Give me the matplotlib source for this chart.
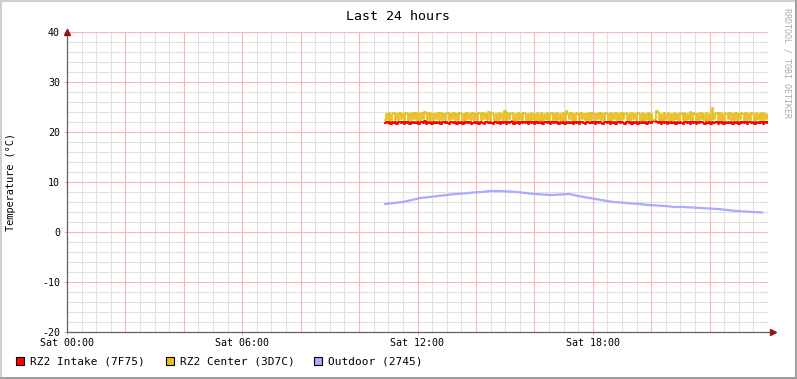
import numpy as np
import matplotlib
matplotlib.use("Agg")
import matplotlib.pyplot as plt
from matplotlib.lines import Line2D
from matplotlib.patches import Rectangle

plt.rcParams["font.family"] = ["DejaVu Sans Mono"]
plt.rcParams["axes.unicode_minus"] = False

# hours since Sat 00:00, 3-minute samples
hours = np.round(10.9 + 0.05 * np.arange(263), 3)

center = [
    22.4, 23.6, 22.5, 23.8, 22.4, 23.7, 23.8, 22.5, 23.6, 22.4, 23.9, 22.6, 23.7, 22.5, 23.8, 23.6, 22.4, 23.7, 22.5, 23.8,
    22.6, 23.9, 22.4, 23.7, 22.5, 23.8, 22.6, 24.1, 23.7, 22.4, 23.8, 22.5, 23.6, 22.4, 23.7, 22.6, 23.8, 22.5, 23.9, 22.4,
    23.7, 22.5, 23.6, 23.8, 22.4, 23.7, 22.6, 23.9, 22.5, 23.6, 22.4, 23.8, 23.7, 22.5, 23.6, 22.4, 23.8, 22.6, 23.7, 22.5,
    23.9, 22.4, 23.7, 22.5, 23.8, 23.6, 22.4, 23.9, 22.6, 23.7, 22.5, 24.0, 22.4, 23.8, 23.7, 22.5, 23.6, 22.4, 23.8, 22.6,
    23.7, 22.5, 24.3, 22.4, 23.8, 22.6, 23.7, 23.9, 22.5, 23.6, 22.4, 23.8, 22.6, 23.7, 22.5, 23.9, 23.6, 22.4, 23.7, 22.5,
    23.8, 22.6, 23.7, 22.4, 23.9, 23.6, 22.5, 23.8, 22.4, 23.7, 22.6, 23.8, 22.5, 23.6, 23.9, 22.4, 23.7, 22.5, 23.8, 22.6,
    23.7, 22.4, 23.8, 22.5, 24.2, 23.7, 22.6, 23.8, 22.4, 23.6, 22.5, 23.9, 23.7, 22.4, 23.8, 22.6, 23.7, 22.5, 23.6, 22.4,
    23.8, 22.5, 23.9, 23.7, 22.4, 23.6, 22.6, 23.8, 22.5, 23.7, 22.4, 23.9, 23.6, 22.5, 23.8, 22.4, 23.7, 22.6, 23.8, 22.5,
    23.6, 22.4, 23.9, 22.6, 23.7, 23.8, 22.5, 23.6, 22.4, 23.8, 22.6, 23.7, 22.5, 23.9, 23.6, 22.4, 23.8, 22.5, 23.7, 22.6,
    23.8, 22.4, 23.7, 22.5, 22.4, 22.6, 24.2, 23.8, 22.5, 23.6, 22.4, 23.9, 22.6, 23.7, 23.8, 22.5, 23.6, 22.4, 23.8, 22.6,
    23.7, 22.5, 23.9, 23.6, 22.4, 23.8, 22.5, 23.7, 22.6, 24.0, 22.4, 23.8, 23.7, 22.5, 23.6, 22.4, 23.9, 22.6, 23.7, 22.5,
    23.8, 22.4, 23.6, 22.5, 24.8, 22.6, 23.7, 23.8, 22.4, 23.9, 22.5, 23.6, 22.4, 23.8, 23.7, 22.6, 23.9, 22.5, 23.6, 22.4,
    23.8, 22.5, 23.7, 22.6, 23.9, 23.6, 22.4, 23.8, 22.5, 23.7, 22.4, 23.9, 23.6, 22.5, 23.8, 22.6, 23.7, 22.4, 23.8, 22.5,
    23.6, 22.6, 23.4,
]

intake = [
    21.9, 22.1, 21.8, 22.0, 21.6, 22.1, 21.9, 22.0, 21.7, 22.1, 22.0, 21.8, 22.1, 21.6, 22.0, 21.9, 22.1, 21.7, 22.0, 21.9,
    22.1, 21.8, 22.0, 21.6, 22.1, 22.0, 21.9, 22.2, 21.7, 22.0, 21.9, 22.1, 21.6, 22.0, 21.8, 22.1, 21.9, 22.0, 21.7, 22.1,
    22.0, 21.8, 22.1, 21.9, 21.6, 22.0, 22.1, 21.8, 22.0, 21.7, 22.1, 21.9, 22.0, 21.6, 22.1, 21.8, 22.0, 21.9, 22.1, 21.7,
    21.9, 22.1, 21.8, 22.0, 21.6, 22.1, 22.0, 21.9, 21.7, 22.1, 22.0, 21.8, 22.1, 21.9, 21.6, 22.0, 22.1, 21.8, 22.0, 21.7,
    22.1, 21.9, 22.0, 21.6, 22.1, 21.8, 22.0, 22.2, 21.7, 22.0, 21.9, 22.1, 21.6, 22.0, 21.8, 22.1, 21.9, 22.0, 21.7, 22.1,
    21.9, 22.0, 21.6, 22.1, 21.8, 22.0, 21.9, 22.1, 21.7, 22.0, 22.1, 21.8, 22.0, 21.6, 22.1, 21.9, 22.0, 21.8, 22.1, 21.7,
    22.0, 21.9, 22.1, 21.6, 22.0, 21.8, 22.1, 21.9, 22.0, 21.7, 22.1, 21.8, 22.0, 21.6, 22.1, 22.0, 21.9, 21.7, 22.1, 22.0,
    21.8, 22.1, 21.9, 22.0, 21.6, 22.1, 21.8, 22.0, 21.9, 21.7, 22.1, 22.0, 21.8, 22.1, 21.6, 22.0, 21.9, 22.1, 21.7, 22.0,
    22.1, 21.8, 22.0, 21.9, 21.6, 22.1, 22.0, 21.8, 22.1, 21.7, 22.0, 21.9, 22.1, 21.6, 22.0, 21.8, 22.1, 21.9, 22.0, 21.7,
    22.1, 22.0, 21.9, 22.2, 22.3, 22.2, 22.0, 21.8, 22.1, 21.7, 22.0, 21.9, 22.1, 21.6, 22.0, 21.8, 22.1, 21.9, 22.0, 21.7,
    22.1, 21.8, 22.0, 21.9, 21.6, 22.1, 22.0, 21.8, 22.1, 21.7, 22.0, 21.9, 22.1, 21.6, 22.0, 21.8, 22.1, 22.0, 21.9, 21.7,
    22.1, 21.9, 22.0, 21.6, 22.1, 21.8, 22.0, 22.1, 21.7, 22.0, 21.9, 22.1, 21.6, 22.0, 21.8, 22.1, 21.9, 22.0, 21.7, 22.1,
    21.9, 22.0, 21.6, 22.1, 21.8, 22.0, 21.9, 22.1, 21.7, 22.0, 22.1, 21.8, 22.0, 21.6, 22.1, 21.9, 22.0, 21.8, 22.1, 21.7,
    22.0, 21.9, 22.0,
]

# outdoor, 18-minute samples
out_hours = np.round(10.9 + 0.3 * np.arange(44), 2)
outdoor = [
    5.6, 5.8, 6.0, 6.4, 6.8, 7.0, 7.2, 7.4, 7.6, 7.7,
    7.9, 8.0, 8.2, 8.2, 8.1, 8.0, 7.8, 7.6, 7.5, 7.4,
    7.5, 7.6, 7.2, 6.9, 6.6, 6.3, 6.0, 5.9, 5.7, 5.6,
    5.4, 5.3, 5.2, 5.0, 5.0, 4.9, 4.8, 4.7, 4.6, 4.4,
    4.2, 4.1, 4.0, 3.9,
]

series = [
    ("RZ2 Intake (7F75)", "#FF0000"),
    ("RZ2 Center (3D7C)", "#E8C020"),
    ("Outdoor (2745)", "#AAAAFF"),
]
tick_hours = [0, 6, 12, 18]
tick_labels = ["Sat 00:00", "Sat 06:00", "Sat 12:00", "Sat 18:00"]

W, H = 797, 379
fig = plt.figure(figsize=(W / 100, H / 100), dpi=100)
ax = fig.add_axes([67 / W, (H - 332) / H, (768 - 67) / W, 300 / H])

ax.set_xlim(0, 24)
ax.set_ylim(-20, 40)

# grid like rrdtool
for x in np.arange(0, 24.01, 0.5):
    if x % 2 == 0:
        continue
    ax.axvline(x, color="#E0E0E0", lw=0.8, zorder=0)
for y in np.arange(-20, 40.01, 2):
    if y % 10 == 0:
        continue
    ax.axhline(y, color="#E0E0E0", lw=0.8, zorder=0)
for x in np.arange(2, 24.01, 2):
    ax.axvline(x, color="#F4B8B8", lw=0.8, zorder=0.5)
for y in np.arange(-10, 40.01, 10):
    ax.axhline(y, color="#F4B8B8", lw=0.8, zorder=0.5)

ax.plot(hours, intake, color=series[0][1], lw=1.4, drawstyle="steps-mid", zorder=3)
ax.plot(hours, center, color=series[1][1], lw=1.3, drawstyle="steps-mid", zorder=4)
ax.plot(out_hours, outdoor, color=series[2][1], lw=1.6, zorder=5)

for s in ["top", "right"]:
    ax.spines[s].set_visible(False)
for s in ["left", "bottom"]:
    ax.spines[s].set_color("#606060")
    ax.spines[s].set_linewidth(0.9)
ax.spines["bottom"].set_bounds(0, 24.1)
ax.spines["left"].set_bounds(-20, 40.6)

ax.plot([0], [1.0], marker="^", color="#901818", ms=4, transform=ax.transAxes, clip_on=False, zorder=6)
ax.plot([1.007], [0], marker=">", color="#901818", ms=4, transform=ax.transAxes, clip_on=False, zorder=6)

ax.set_xticks(tick_hours)
ax.set_xticklabels(tick_labels)
ax.set_yticks(range(-20, 41, 10))
ax.tick_params(axis="both", labelsize=7.2, length=2, color="#F4B4B4", pad=2)
ax.tick_params(axis="y", pad=3)

ax.set_ylabel("Temperature (°C)", fontsize=7.4)
ax.yaxis.set_label_coords(-(67 - 16) / (768 - 67), 0.5)

fig.text(398 / W, 1 - 16 / H, "Last 24 hours", ha="center", va="center", fontsize=9.5)
fig.text(787 / W, 1 - 8 / H, "RRDTOOL / TOBI OETIKER", rotation=-90, ha="center", va="top",
         fontsize=6, color="#AAAAAA")

# legend
legend_x = [16, 166, 314]
for (label, color), lx in zip(series, legend_x):
    fig.patches.append(Rectangle((lx / W, 1 - 365 / H), 8 / W, 8 / H, transform=fig.transFigure,
                                 facecolor=color, edgecolor="black", lw=0.8))
    fig.text((lx + 14) / W, 1 - 361 / H, label, ha="left", va="center", fontsize=8)

# frame
fig.add_artist(Line2D([0, 1], [1 - 1 / H, 1 - 1 / H], color="#D0D0D0", lw=1.5))
fig.add_artist(Line2D([1 / W, 1 / W], [0, 1], color="#D0D0D0", lw=1.5))
fig.add_artist(Line2D([0, 1], [1.5 / H, 1.5 / H], color="#A0A0A0", lw=2.2))
fig.add_artist(Line2D([1 - 1.5 / W, 1 - 1.5 / W], [0, 1], color="#A0A0A0", lw=2.2))

fig.savefig("out.png", dpi=100)
